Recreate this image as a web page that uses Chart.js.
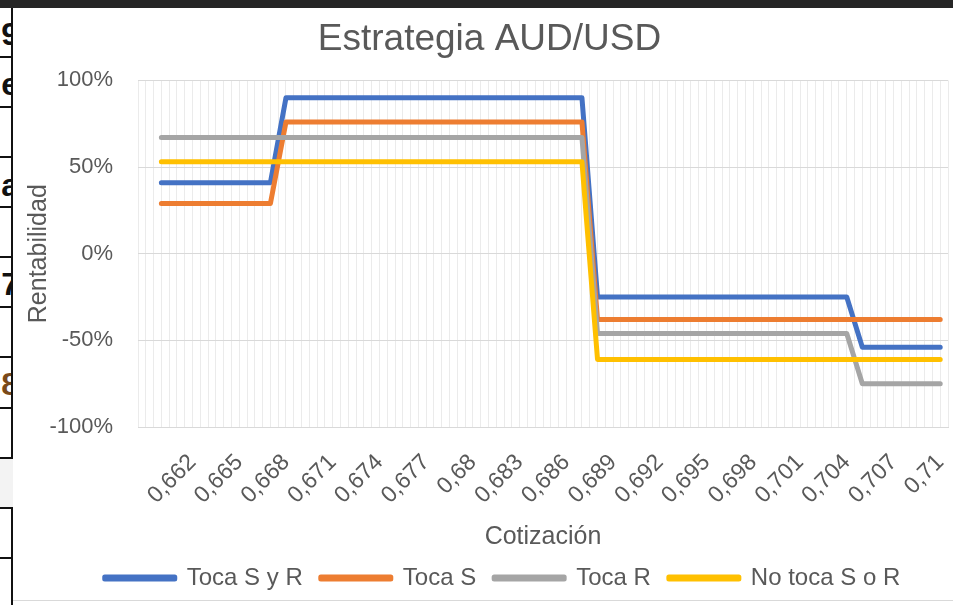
<!DOCTYPE html>
<html>
<head>
<meta charset="utf-8">
<title>Estrategia AUD/USD</title>
<script src="https://cdn.jsdelivr.net/npm/chart.js@4.4.1/dist/chart.umd.min.js"></script>
<style>
    html, body { margin: 0; padding: 0; background: #fff; }
    body { width: 953px; height: 605px; position: relative; overflow: hidden; font-family: 'Liberation Sans', Arial, sans-serif; }
    #top-bar { position: absolute; left: 0; top: 0; width: 953px; height: 8px; background: #262626; }
    #sheet-col { position: absolute; left: 0; top: 8px; width: 11px; height: 597px; overflow: hidden; }
    .hline { position: absolute; left: 0; width: 13px; height: 2px; background: #111; }
    .glyph { position: absolute; right: -8px; font-size: 32px; font-weight: bold; color: #111; line-height: 32px; }
    #vline { position: absolute; left: 11px; top: 8px; width: 2px; height: 597px; background: #111; }
    #gray-cell { position: absolute; left: 0; top: 459px; width: 13px; height: 48px; background: #f3f3f3; }
    #chart-box { position: absolute; left: 13px; top: 8px; width: 940px; height: 592px; background: #fff; }
    #bottom-edge { position: absolute; left: 13px; top: 600px; width: 940px; height: 5px; background: #fff; border-top: 1px solid #d9d9d9; }
</style>
</head>
<body>
<div id="top-bar"></div>
<div id="vline"></div>
<div id="sheet-col">
    <div class="glyph" style="top: 10px;">9</div>
    <div class="glyph" style="top: 60px;">e</div>
    <div class="glyph" style="top: 161px;">a</div>
    <div class="glyph" style="top: 260px;">7</div>
    <div class="glyph" style="top: 360px; color: #7a4a1a;">8</div>
    <div class="hline" style="top: 48px;"></div>
    <div class="hline" style="top: 98px;"></div>
    <div class="hline" style="top: 148px;"></div>
    <div class="hline" style="top: 198px;"></div>
    <div class="hline" style="top: 248px;"></div>
    <div class="hline" style="top: 298px;"></div>
    <div class="hline" style="top: 348px;"></div>
    <div class="hline" style="top: 399px;"></div>
    <div class="hline" style="top: 449px;"></div>
    <div class="hline" style="top: 499px;"></div>
    <div class="hline" style="top: 549px;"></div>
</div>
<div id="gray-cell"></div>
<div id="chart-box"><canvas id="chart"></canvas></div>
<div id="bottom-edge"></div>

<script>
// --- Data ---
const categories = ['',
    '0,66', '0,661', '0,662', '0,663', '0,664', '0,665', '0,666', '0,667', '0,668', '0,669',
    '0,67', '0,671', '0,672', '0,673', '0,674', '0,675', '0,676', '0,677', '0,678', '0,679',
    '0,68', '0,681', '0,682', '0,683', '0,684', '0,685', '0,686', '0,687', '0,688', '0,689',
    '0,69', '0,691', '0,692', '0,693', '0,694', '0,695', '0,696', '0,697', '0,698', '0,699',
    '0,7', '0,701', '0,702', '0,703', '0,704', '0,705', '0,706', '0,707', '0,708', '0,709',
    '0,71'];

const tocaSyR = [null,
    41, 41, 41, 41, 41, 41, 41, 41,
    90, 90, 90, 90, 90, 90, 90, 90, 90, 90, 90, 90, 90, 90, 90, 90, 90, 90, 90, 90,
    -25, -25, -25, -25, -25, -25, -25, -25, -25, -25, -25, -25, -25, -25, -25, -25, -25,
    -54, -54, -54, -54, -54, -54];

const tocaS = [null,
    29, 29, 29, 29, 29, 29, 29, 29,
    76, 76, 76, 76, 76, 76, 76, 76, 76, 76, 76, 76, 76, 76, 76, 76, 76, 76, 76, 76,
    -38, -38, -38, -38, -38, -38, -38, -38, -38, -38, -38, -38, -38, -38, -38, -38, -38,
    -38, -38, -38, -38, -38, -38];

const tocaR = [null,
    67, 67, 67, 67, 67, 67, 67, 67,
    67, 67, 67, 67, 67, 67, 67, 67, 67, 67, 67, 67, 67, 67, 67, 67, 67, 67, 67, 67,
    -46, -46, -46, -46, -46, -46, -46, -46, -46, -46, -46, -46, -46, -46, -46, -46, -46,
    -75, -75, -75, -75, -75, -75];

const noTocaSoR = [null,
    53, 53, 53, 53, 53, 53, 53, 53,
    53, 53, 53, 53, 53, 53, 53, 53, 53, 53, 53, 53, 53, 53, 53, 53, 53, 53, 53, 53,
    -61, -61, -61, -61, -61, -61, -61, -61, -61, -61, -61, -61, -61, -61, -61, -61, -61,
    -61, -61, -61, -61, -61, -61];

const seriesNames = ['Toca S y R', 'Toca S', 'Toca R', 'No toca S o R'];
const seriesColors = ['#4472C4', '#ED7D31', '#A5A5A5', '#FFC000'];
const yTicks = [-100, -50, 0, 50, 100];
const labelEvery = 3;

// --- Chart ---
const textColor = '#595959';
const fontFamily = "'Liberation Sans', Arial, sans-serif";

function makeLine(label, data, color, order) {
    return {
        label,
        data,
        borderColor: color,
        backgroundColor: color,
        borderWidth: 5,
        borderCapStyle: 'round',
        borderJoinStyle: 'round',
        pointRadius: 0,
        pointHoverRadius: 0,
        tension: 0,
        fill: false,
        order
    };
}

// nudge title and legend to the right, like the Excel original
const shiftBlocks = {
    id: 'shiftBlocks',
    afterLayout(chart) {
        if (chart.titleBlock) { chart.titleBlock.left += 9; chart.titleBlock.right += 9; }
        if (chart.legend) { chart.legend.left += 22; chart.legend.right += 22; }
    }
};

new Chart(document.getElementById('chart').getContext('2d'), {
    type: 'line',
    data: {
        labels: categories,
        datasets: [
            makeLine(seriesNames[0], tocaSyR, seriesColors[0], 4),
            makeLine(seriesNames[1], tocaS, seriesColors[1], 3),
            makeLine(seriesNames[2], tocaR, seriesColors[2], 2),
            makeLine(seriesNames[3], noTocaSoR, seriesColors[3], 1)
        ]
    },
    options: {
        responsive: true,
        maintainAspectRatio: false,
        animation: false,
        devicePixelRatio: 1,
        font: { family: fontFamily },
        layout: { padding: { left: 0, right: 5, top: 0, bottom: 0 } },
        scales: {
            x: {
                type: 'category',
                offset: true,
                grid: { color: '#ebebeb', offset: true, drawTicks: false },
                border: { color: '#d9d9d9' },
                ticks: {
                    autoSkip: false,
                    minRotation: 45,
                    maxRotation: 45,
                    padding: 22,
                    color: textColor,
                    font: { family: fontFamily, size: 23 },
                    callback: (value, index) => index % labelEvery === 0 ? categories[index] : ''
                },
                title: {
                    display: true,
                    text: 'Cotización',
                    color: textColor,
                    font: { family: fontFamily, size: 25, lineHeight: 1 },
                    padding: { top: 0, bottom: -2 }
                },
                afterFit: scale => {
                    scale.height = 121;
                    scale.paddingLeft = 0;
                    scale.paddingRight = 0;
                }
            },
            x2: {
                type: 'category',
                position: 'bottom',
                offset: true,
                grid: { color: '#ebebeb', offset: false, drawTicks: false },
                border: { display: false },
                ticks: { display: false },
                afterFit: scale => {
                    scale.height = 0;
                    scale.paddingLeft = 0;
                    scale.paddingRight = 0;
                }
            },
            y: {
                min: yTicks[0],
                max: yTicks[yTicks.length - 1],
                ticks: {
                    stepSize: yTicks[1] - yTicks[0],
                    padding: 25,
                    color: textColor,
                    font: { family: fontFamily, size: 22 },
                    callback: v => v + '%'
                },
                grid: { color: '#d9d9d9', drawTicks: false },
                border: { display: false },
                title: {
                    display: true,
                    text: 'Rentabilidad',
                    color: textColor,
                    font: { family: fontFamily, size: 25 },
                    padding: { top: 11, bottom: 0 }
                },
                afterFit: scale => { scale.width = 125; }
            }
        },
        plugins: {
            title: {
                display: true,
                text: 'Estrategia AUD/USD',
                color: textColor,
                font: { family: fontFamily, size: 37, weight: 'normal' },
                padding: { top: 10, bottom: 18 }
            },
            legend: {
                position: 'bottom',
                labels: {
                    boxWidth: 70,
                    boxHeight: 2,
                    padding: 18,
                    color: textColor,
                    font: { family: fontFamily, size: 24 },
                    sort: (a, b) => a.datasetIndex - b.datasetIndex
                }
            },
            tooltip: { enabled: false }
        }
    },
    plugins: [shiftBlocks]
});
</script>
</body>
</html>
